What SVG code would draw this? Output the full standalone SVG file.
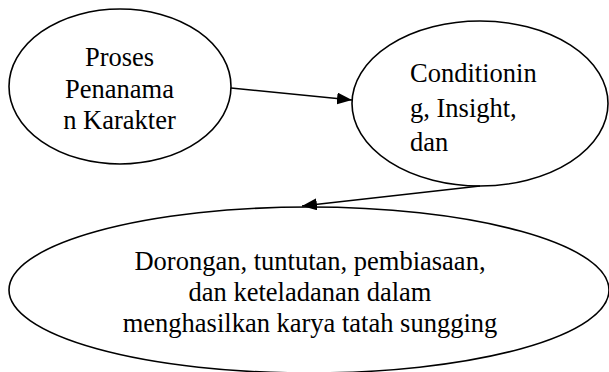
<svg xmlns="http://www.w3.org/2000/svg" width="609" height="372" viewBox="0 0 609 372">
<style>
.node{fill:#fff;stroke:#000;stroke-width:1.6}
.lbl{font-family:'Liberation Serif','Times New Roman',serif;font-size:26.5px;fill:#000}
.c{text-anchor:middle}
.edge{stroke:#000;stroke-width:1.6;fill:none}
</style>
<defs>
<marker id="ah" markerUnits="userSpaceOnUse" markerWidth="16" markerHeight="12" refX="15" refY="6" orient="auto">
<path d="M0,0 L15,6 L0,12 Z" fill="#000"/>
</marker>
</defs>
<rect width="609" height="372" fill="#fff"/>
<g id="node-proses">
<ellipse class="node" cx="120" cy="86.5" rx="111" ry="77.5"/>
<text class="lbl c" x="119.5" y="66">Proses</text>
<text class="lbl c" x="119.5" y="97.5">Penanama</text>
<text class="lbl c" x="119.5" y="129">n Karakter</text>
</g>
<g id="node-conditioning">
<ellipse class="node" cx="480" cy="103.5" rx="128" ry="82.5"/>
<text class="lbl" x="410" y="82">Conditionin</text>
<text class="lbl" x="410" y="117">g, Insight,</text>
<text class="lbl" x="410" y="151">dan</text>
</g>
<g id="node-dorongan">
<ellipse class="node" cx="309" cy="290" rx="300" ry="83"/>
<text class="lbl c" x="310" y="270">Dorongan, tuntutan, pembiasaan,</text>
<text class="lbl c" x="310" y="301">dan keteladanan dalam</text>
<text class="lbl c" x="310" y="332">menghasilkan karya tatah sungging</text>
</g>
<g id="connectors">
<line class="edge" x1="231" y1="88" x2="352" y2="100" marker-end="url(#ah)"/>
<line class="edge" x1="480" y1="186" x2="302" y2="206" marker-end="url(#ah)"/>
</g>
</svg>
